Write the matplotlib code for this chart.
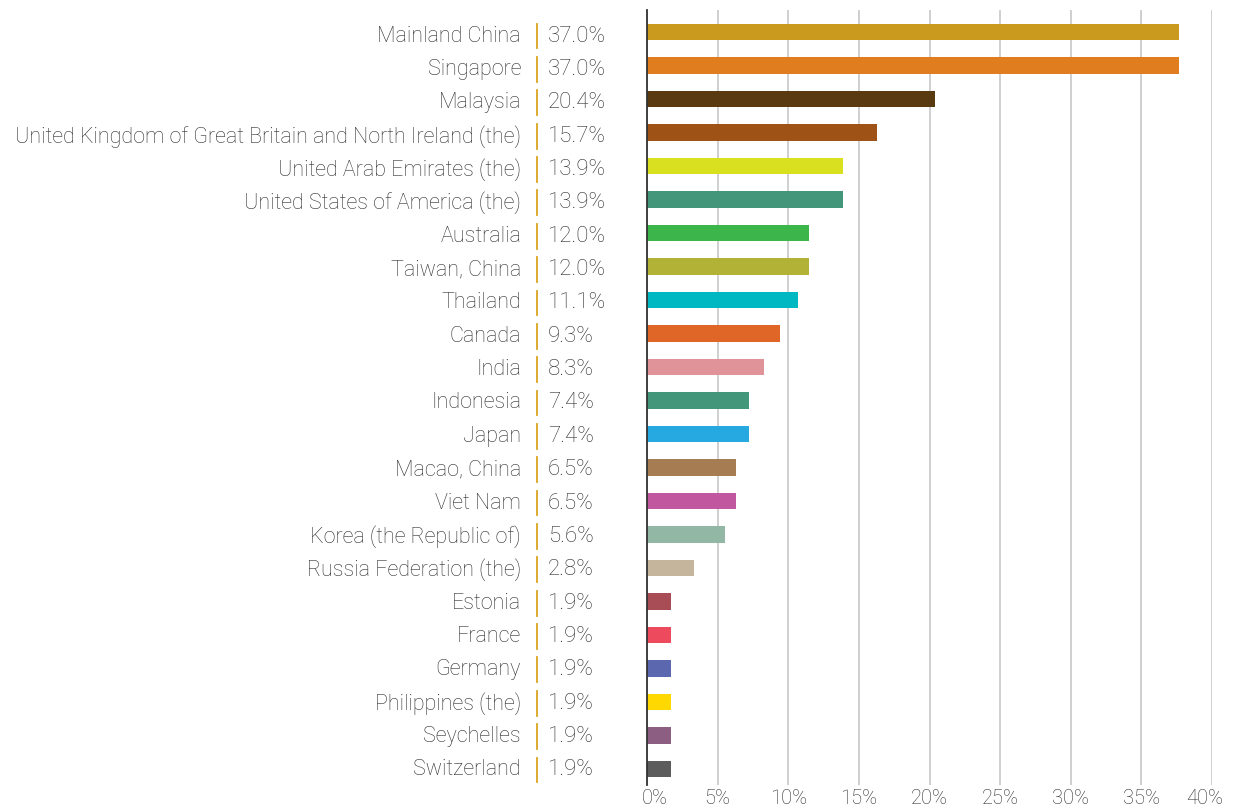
import matplotlib.pyplot as plt
import matplotlib.transforms as mtransforms
from matplotlib.lines import Line2D
import numpy as np

# Data
countries = ['Mainland China', 'Singapore', 'Malaysia',
             'United Kingdom of Great Britain and North Ireland (the)',
             'United Arab Emirates (the)', 'United States of America (the)',
             'Australia', 'Taiwan, China', 'Thailand', 'Canada', 'India',
             'Indonesia', 'Japan', 'Macao, China', 'Viet Nam',
             'Korea (the Republic of)', 'Russia Federation (the)', 'Estonia',
             'France', 'Germany', 'Philippines (the)', 'Seychelles', 'Switzerland']
label_values = ['37.0%', '37.0%', '20.4%', '15.7%', '13.9%', '13.9%', '12.0%',
                '12.0%', '11.1%', '9.3%', '8.3%', '7.4%', '7.4%', '6.5%', '6.5%',
                '5.6%', '2.8%', '1.9%', '1.9%', '1.9%', '1.9%', '1.9%', '1.9%']
bar_values = [37.7, 37.7, 20.4, 16.3, 13.9, 13.9, 11.5, 11.5, 10.7, 9.4, 8.3,
              7.2, 7.2, 6.3, 6.3, 5.5, 3.3, 1.7, 1.7, 1.7, 1.7, 1.7, 1.7]
colors = ['#C99A1E', '#E07D1E', '#5A3A10', '#9E5215', '#D8E020', '#43967A',
          '#3CB54A', '#B2B236', '#00B8C2', '#E06628', '#E09398', '#43967A',
          '#26A9E0', '#A67C52', '#C1579E', '#92B8A5', '#C5B59C', '#A84C55',
          '#EE4A5E', '#5B68B0', '#FFD800', '#8B5E82', '#5C5C5C']
x_ticks = [0, 5, 10, 15, 20, 25, 30, 35, 40]

plt.rcParams['font.family'] = ['Roboto', 'DejaVu Sans']
text_color = '#2e2e2e'

fig = plt.figure(figsize=(12.4, 8.11), dpi=100)
ax = fig.add_axes([0.5218, 0.032, 0.4556, 0.9557])

y = np.arange(len(countries))
ax.barh(y, bar_values, height=0.5, color=colors, zorder=3)

ax.set_xlim(0, 40)
ax.set_ylim(len(countries) - 1 + 0.48, -0.66)
ax.set_yticks([])
ax.set_xticks(x_ticks)
ax.set_xticklabels([f'{t}%' for t in x_ticks], fontsize=14.5, color=text_color,
                   fontweight='light')
ax.tick_params(axis='x', length=0, pad=3)

# shift the first and last tick labels to stay in the plot width
labels = ax.get_xticklabels()
labels[0].set_transform(labels[0].get_transform() +
                        mtransforms.ScaledTranslation(8 / 100, 0, fig.dpi_scale_trans))
labels[-1].set_transform(labels[-1].get_transform() +
                         mtransforms.ScaledTranslation(-7 / 100, 0, fig.dpi_scale_trans))

ax.grid(axis='x', color='#cccccc', linewidth=1.3, zorder=0)
for side in ['top', 'right', 'bottom']:
    ax.spines[side].set_visible(False)
ax.spines['left'].set_color('#333333')
ax.spines['left'].set_linewidth(1.3)
ax.spines['left'].set_zorder(4)

# category labels, separator and value labels to the left of the axis
# (the label rows sit on a slightly tighter grid than the bars)
label_y = y * 0.9958 + 0.12
trans = mtransforms.blended_transform_factory(fig.transFigure, ax.transData)
for ly, name, val in zip(label_y, countries, label_values):
    ax.text(0.4202, ly, name, transform=trans, ha='right', va='center',
            fontsize=15.5, color=text_color, fontweight='light')
    ax.text(0.4419, ly, val, transform=trans, ha='left', va='center',
            fontsize=16, color=text_color, fontweight='light')
    ax.add_line(Line2D([0.4331, 0.4331], [ly - 0.37, ly + 0.37], transform=trans,
                       color='#D9A420', linewidth=1.3, clip_on=False))

plt.savefig('out.png', dpi=100)
plt.close()
